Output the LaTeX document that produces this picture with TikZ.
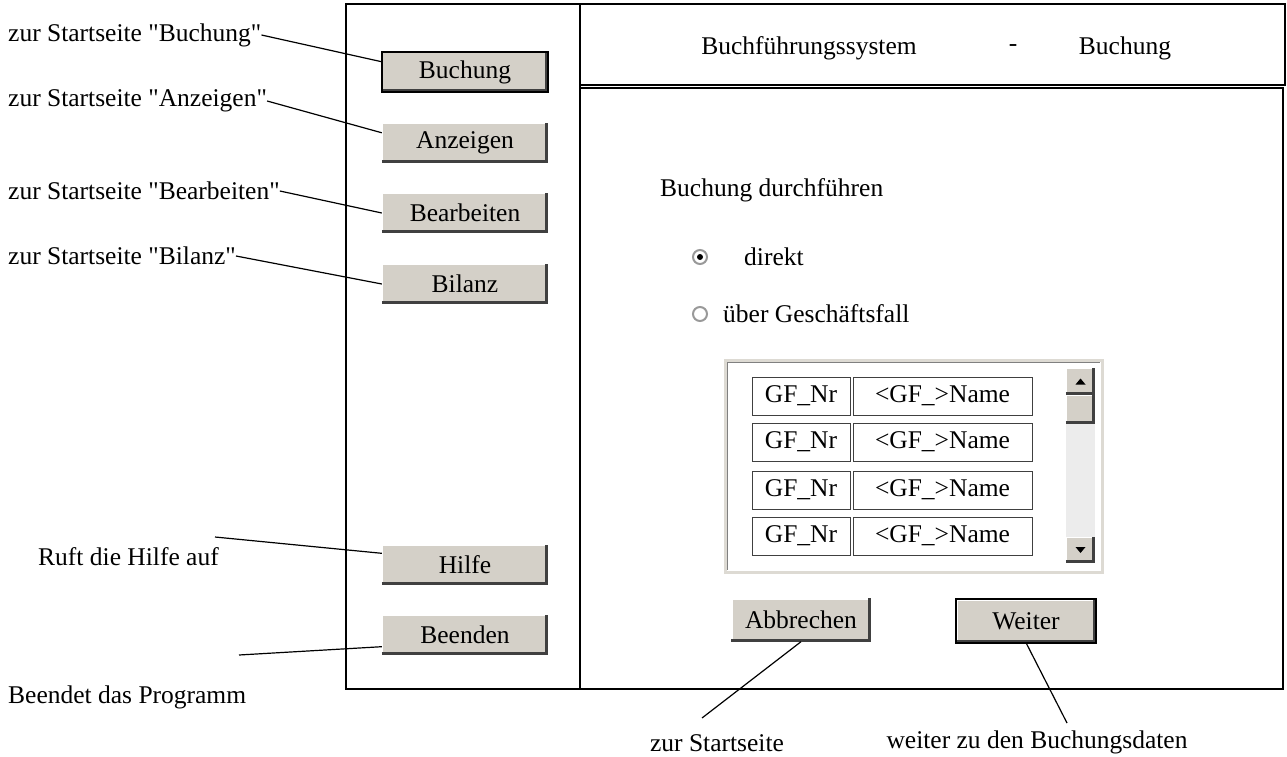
\documentclass[tikz,border=0pt]{standalone}
\usepackage{fontspec}
\setmainfont{Liberation Serif}
\usepackage{tikz}
\usetikzlibrary{calc}
\definecolor{btngray}{HTML}{D4D0C8}
\definecolor{btndark}{HTML}{404040}
\tikzstyle{button} = [rectangle,fill=btngray,minimum width=166pt,minimum height=40pt,inner sep=0pt]
\tikzstyle{cell} = [rectangle,draw=black!75,line width=1pt,minimum height=38pt,inner sep=0pt]
\tikzstyle{callout} = [draw,line width=1.2pt]
\tikzstyle{frame} = [draw,line width=1.5pt]
\tikzstyle{radio} = [circle,draw=gray!80,line width=2pt,fill=white,minimum size=14pt,inner sep=0pt]
\tikzstyle{label} = [anchor=west,inner sep=0pt]

\begin{document}
\begin{tikzpicture}[x=1pt,y=-1pt,font=\fontsize{25.5}{29}\selectfont]
    \useasboundingbox (0,0) rectangle (1287,757);
    % Draw the frames of the window
    \path[frame] (346,4) rectangle (580,689);
    \path[frame] (580,4) rectangle (1285,85);
    \path[frame] (580,88) rectangle (1283,689);

    % Header texts
    \node (title) at (809,48) {Buchführungssystem};
    \node (dash) at (1013,48) {-};
    \node (page) at (1125,48) {Buchung};

    % First we draw the buttons of the menu
    \foreach \pos/ \name/ \text in {{(465,72)/btnBuchung/Buchung},{(465,143)/btnAnzeigen/Anzeigen},
        {(465,213)/btnBearbeiten/Bearbeiten},{(465,284)/btnBilanz/Bilanz},
        {(465,565)/btnHilfe/Hilfe},{(465,635)/btnBeenden/Beenden}}
        \node[button] (\name) at \pos {\text};
    \node[button,minimum width=139pt,minimum height=43pt] (btnAbbrechen) at (801,620) {Abbrechen};
    \node[button,minimum width=139pt,minimum height=43pt] (btnWeiter) at (1026,621) {Weiter};

    % Bevel of the list box
    \draw[btngray!80,line width=3pt] (725,360) rectangle (1102,572);
    \draw[gray,line width=1pt] (1100,362) -- (727,362) -- (727,570);

    % Scroll bar
    \fill[gray!15] (1066,368) rectangle (1095,563);
    \node[button,minimum width=29pt,minimum height=27pt] (btnUp) at (1080.5,381.5) {};
    \node[button,minimum width=29pt,minimum height=29pt] (btnThumb) at (1080.5,409.5) {};
    \node[button,minimum width=29pt,minimum height=26pt] (btnDown) at (1080.5,550) {};
    \fill (btnUp.center) ++(-5,3) -- ++(10,0) -- ++(-5,-6) -- cycle;
    \fill (btnDown.center) ++(-5,-3) -- ++(10,0) -- ++(-5,6) -- cycle;

    % 3D look of all buttons
    \foreach \n in {btnBuchung,btnAnzeigen,btnBearbeiten,btnBilanz,btnHilfe,btnBeenden,
        btnAbbrechen,btnWeiter,btnUp,btnThumb,btnDown} {
        \draw[white,line width=1.5pt] ([xshift=0.75pt]\n.south west) -- ([xshift=0.75pt,yshift=-0.75pt]\n.north west) -- ([yshift=-0.75pt]\n.north east);
        \draw[btndark,line width=3pt] ([yshift=1.5pt]\n.south west) -- ([xshift=-1.5pt,yshift=1.5pt]\n.south east) -- ([xshift=-1.5pt]\n.north east);
    }
    % default buttons get a black border
    \foreach \n in {btnBuchung,btnWeiter}
        \draw[line width=2pt] (\n.south west) rectangle (\n.north east);

    % Rows of the list
    \foreach \y/ \r in {396/1,442/2,490/3,536/4} {
        \node[cell,minimum width=98pt] (nr\r) at (801,\y) {GF\_Nr};
        \node[cell,minimum width=179pt] (name\r) at (942.5,\y) {<GF\_>Name};
    }

    % Choice of the kind of booking
    \node[label] (choice) at (660,190) {Buchung durchführen};
    \node[radio] (radDirekt) at (700,257) {};
    \fill (radDirekt.center) circle (3pt);
    \node[label] (direkt) at (744,257) {direkt};
    \node[radio] (radGF) at (700,314) {};
    \node[label] (gf) at (723,314) {über Geschäftsfall};

    % Callout texts
    \foreach \pos/ \name/ \text in {{(8,35)/lblBuchung/zur Startseite \textquotedbl Buchung\textquotedbl},
        {(8,101)/lblAnzeigen/zur Startseite \textquotedbl Anzeigen\textquotedbl},
        {(8,191)/lblBearbeiten/zur Startseite \textquotedbl Bearbeiten\textquotedbl},
        {(8,256)/lblBilanz/zur Startseite \textquotedbl Bilanz\textquotedbl},
        {(38,557)/lblHilfe/Ruft die Hilfe auf},{(8,697)/lblBeenden/Beendet das Programm}}
        \node[label] (\name) at \pos {\text};
    \node (lblAbbrechen) at (717,743) {zur Startseite};
    \node (lblWeiter) at (1037,742) {weiter zu den Buchungsdaten};

    \coordinate (endHilfe) at (215,537);
    \coordinate (endBeenden) at (239,655);
    \coordinate (endAbbrechen) at (702,718);
    \coordinate (endWeiter) at (1067,723);

    % Connect texts with buttons
    \foreach \source/ \dest in {lblBuchung.east/btnBuchung.173, lblAnzeigen.east/btnAnzeigen.173,
        lblBearbeiten.east/btnBearbeiten.west, lblBilanz.east/btnBilanz.west,
        endHilfe/btnHilfe.172, endBeenden/btnBeenden.188,
        endAbbrechen/btnAbbrechen.south, endWeiter/btnWeiter.south}
        \path[callout] (\source) -- (\dest);
\end{tikzpicture}
\end{document}
